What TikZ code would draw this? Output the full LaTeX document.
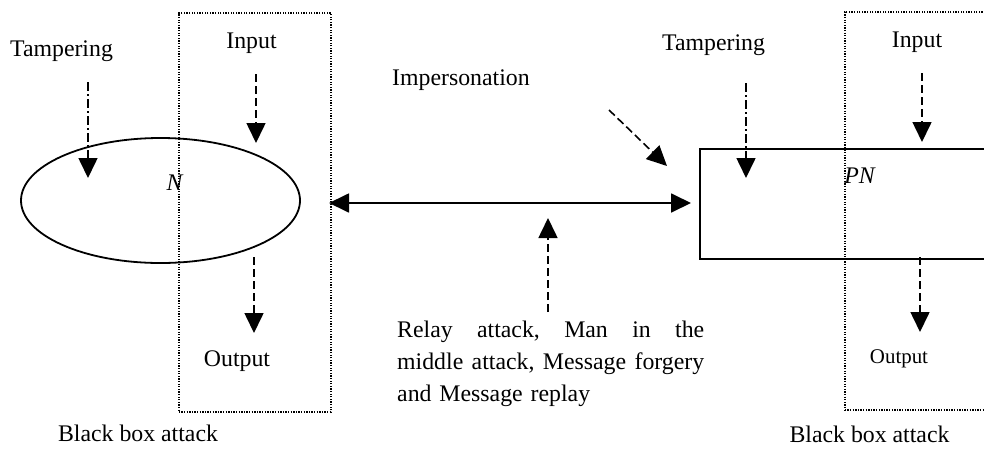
\documentclass[tikz,border=0pt]{standalone}
\usepackage{fontspec}
\setmainfont{Liberation Serif}
\usetikzlibrary{arrows.meta,shapes.geometric}
\begin{document}
\begin{tikzpicture}[x=1pt,y=-1pt,
  lbl/.style={font=\fontsize{23.8pt}{32pt}\selectfont, inner sep=0pt, anchor=base},
  tipshape/.style={-{Triangle[length=20pt,width=19pt]}},
  dasharrow/.style={tipshape, line width=1.6pt, dash pattern=on 8pt off 4pt},
  dashdotarrow/.style={tipshape, line width=1.6pt, dash pattern=on 9pt off 3pt on 2pt off 3pt},
  dblarrow/.style={{Triangle[length=20pt,width=19pt]}-{Triangle[length=20pt,width=19pt]}, line width=1.8pt},
  dotbox/.style={draw, line width=1.6pt, dash pattern=on 1.3pt off 1.3pt, inner sep=0pt, anchor=north west},
  solidbox/.style={draw, line width=2pt, inner sep=0pt}
]
\useasboundingbox (0,0) rectangle (984,450);
\clip (0,0) rectangle (984,450);

% shapes
\node[dotbox, minimum width=152pt, minimum height=399pt] (dboxL) at (178,12) {};
\node[dotbox, minimum width=152pt, minimum height=398pt] (dboxR) at (844,11) {};
\node[solidbox, ellipse, line width=1.8pt, minimum width=279pt, minimum height=125pt] (ell) at (160.5,200.5) {};
\node[solidbox, anchor=north west, minimum width=295pt, minimum height=110pt] (pn) at (699,148) {};

% labels
\node[lbl] (tampL) at (61.5,56) {Tampering};
\node[lbl] (inL) at (251.5,48) {Input};
\node[lbl] (nlab) at (175,190) {\textit{N}};
\node[lbl] (outL) at (237,366) {Output};
\node[lbl] (bbL) at (138,441) {Black box attack};
\node[lbl, anchor=base west] (imp) at (392,85) {Impersonation};
\node[lbl, anchor=base west, align=left, text width=307pt] (relay) at (397,337)
  {\makebox[307pt][l]{Relay\hfill attack,\hfill Man\hfill in\hfill the}\\
   \makebox[307pt][l]{middle\hfill attack,\hfill Message\hfill forgery}\\
   and Message replay};
\node[lbl] (tampR) at (713.5,50) {Tampering};
\node[lbl] (inR) at (917,47) {Input};
\node[lbl] (pnlab) at (860,183) {\textit{PN}};
\node[lbl, font=\fontsize{20.9pt}{25pt}\selectfont] (outR) at (899,363) {Output};
\node[lbl] (bbR) at (869.5,442) {Black box attack};

% arrow end points
\coordinate (tampLs) at (88,82);   \coordinate (tampLe) at (88,178);
\coordinate (inLs) at (256,74);    \coordinate (inLe) at (256,143);
\coordinate (outLs) at (254,257);  \coordinate (outLe) at (254,333);
\coordinate (dblL) at (329,203);   \coordinate (dblR) at (691,203);
\coordinate (relS) at (548,312);   \coordinate (relE) at (548,218);
\coordinate (impS) at (609,110);   \coordinate (impE) at (667,166);
\coordinate (tampRs) at (746,83);  \coordinate (tampRe) at (746,178);
\coordinate (inRs) at (922,73);    \coordinate (inRe) at (922,142);
\coordinate (outRs) at (920,257);  \coordinate (outRe) at (920,332);

% connectors
\draw[dashdotarrow] (tampLs) -- (tampLe);
\draw[dasharrow] (inLs) -- (inLe);
\draw[dasharrow] (outLs) -- (outLe);
\draw[dblarrow] (dblL) -- (dblR);
\draw[dasharrow] (relS) -- (relE);
\draw[dasharrow] (impS) -- (impE);
\draw[dashdotarrow] (tampRs) -- (tampRe);
\draw[dasharrow] (inRs) -- (inRe);
\draw[dasharrow] (outRs) -- (outRe);
\end{tikzpicture}
\end{document}
